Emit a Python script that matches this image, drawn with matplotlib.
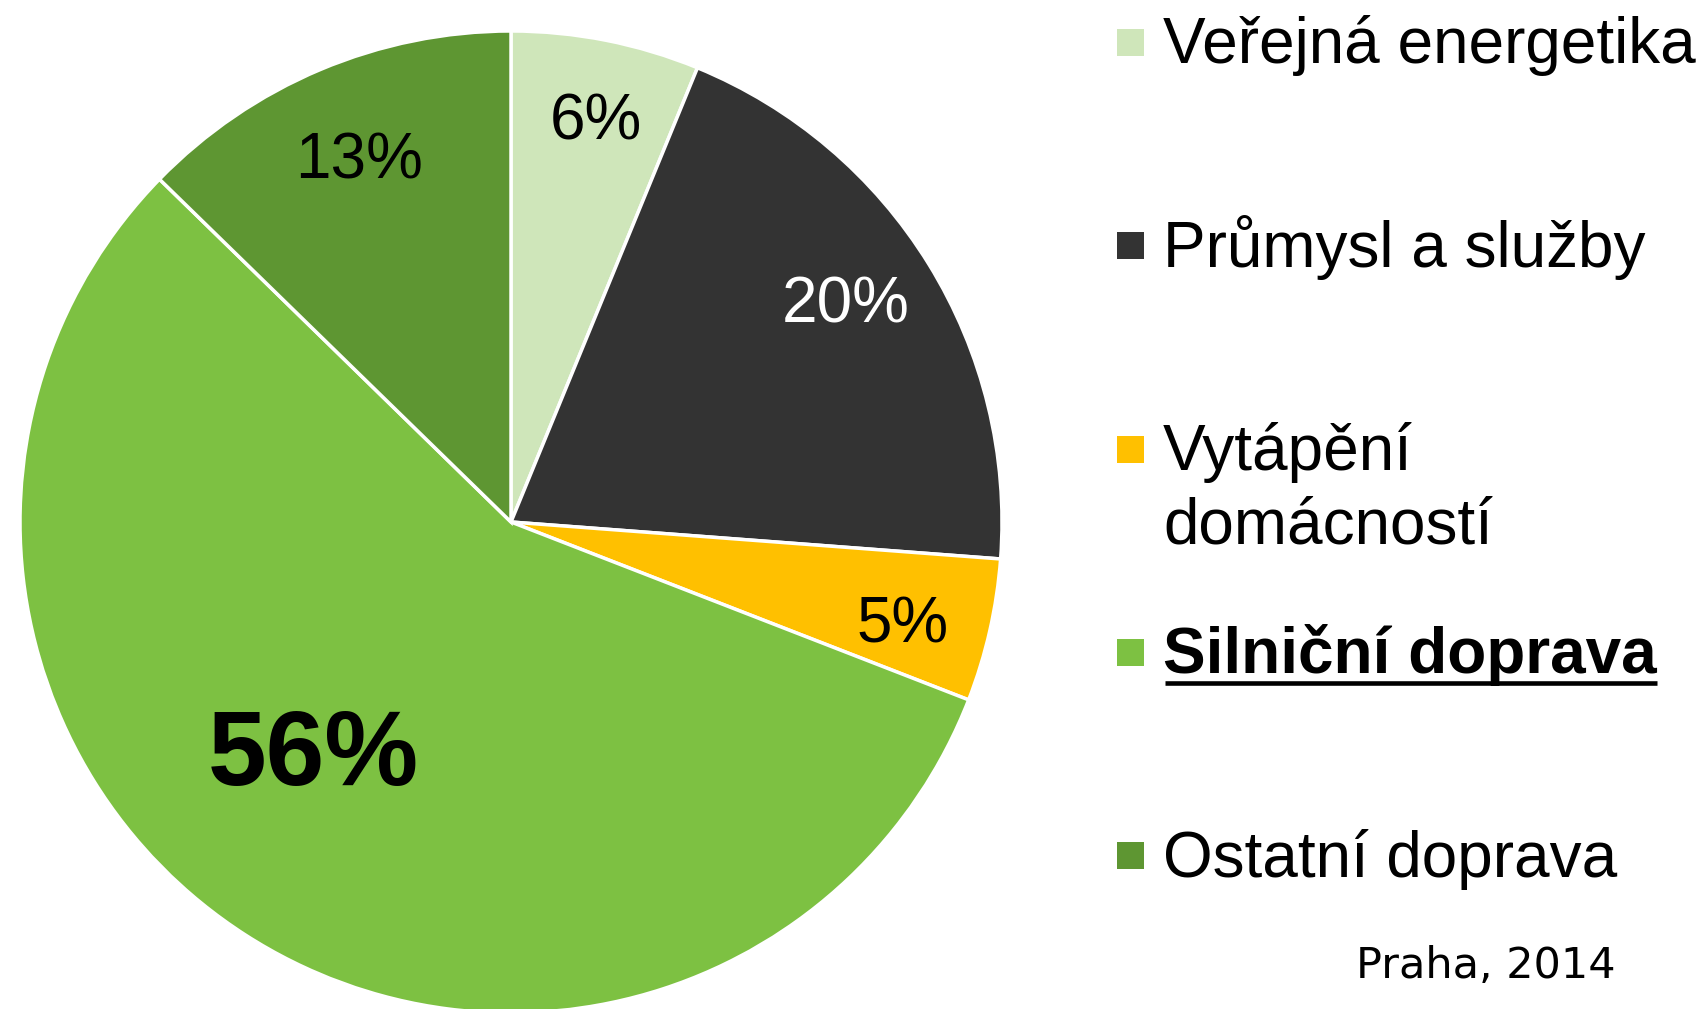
# Pie chart - share of emissions by source, Prague 2014
import matplotlib.pyplot as plt
from matplotlib.patches import Rectangle

# Data
categories = ["Veřejná energetika", "Průmysl a služby", "Vytápění\ndomácností",
              "Silniční doprava", "Ostatní doprava"]
shares = [6.2, 20.0, 4.7, 56.4, 12.7]
colors = ["#CFE6BA", "#333333", "#FFC000", "#7DC142", "#5E9632"]
pct_colors = ["black", "white", "black", "black", "black"]
highlight = 3  # Silniční doprava
note = "Praha, 2014"

# Figure in pixel-like data coordinates
W, H = 1706, 1009
fig = plt.figure(figsize=(W / 100, H / 100), dpi=100)
ax = fig.add_axes([0, 0, 1, 1])

cx, cy, R = 511, H - 522, 491
wedges, texts, autotexts = ax.pie(
    shares, colors=colors, startangle=90, counterclock=False,
    center=(cx, cy), radius=R, frame=True,
    autopct=lambda p: f"{p:.0f}%", pctdistance=0.82,
    wedgeprops=dict(edgecolor="white", linewidth=2.5),
    textprops=dict(fontsize=46, family="Liberation Sans"))

ax.set_xlim(0, W)
ax.set_ylim(0, H)
ax.set_aspect("equal")
ax.axis("off")

# small nudges of the labels (pixels), like the best-fit placement of the original
nudges = [(7, 4), (-8, 5), (-1, -14), (0, 0), (4, -10)]
for t, c, (dx, dy) in zip(autotexts, pct_colors, nudges):
    t.set_color(c)
    x, y = t.get_position()
    t.set_position((x + dx, y + dy))

# big label for the main slice, closer to the centre
big = autotexts[highlight]
big.set_fontsize(76)
big.set_fontweight("bold")
big.set_position((cx - 198, cy - 236))

# Legend drawn by hand (uneven row layout, underlined entry)
first_base, step, line_gap = 63, 203.5, 73
for i, (name, col) in enumerate(zip(categories, colors)):
    base = first_base + i * step
    ax.add_patch(Rectangle((1117, H - (base - 21) - 13.5), 27, 27,
                           facecolor=col, edgecolor="none"))
    for j, line in enumerate(name.split("\n")):
        t = ax.text(1163, H - (base + j * line_gap), line, fontsize=46,
                    family="Liberation Sans", va="baseline", ha="left",
                    fontweight="bold" if i == highlight else "normal")
        if i == highlight:
            fig.canvas.draw()
            bb = t.get_window_extent()
            ax.plot([bb.x0 + 2, bb.x1], [H - (base + 9), H - (base + 9)],
                    color="black", linewidth=3.3, solid_capstyle="butt")

ax.text(1616, H - 966, note, fontsize=31, family="DejaVu Sans",
        ha="right", va="center")

plt.savefig("out.png", dpi=100)
